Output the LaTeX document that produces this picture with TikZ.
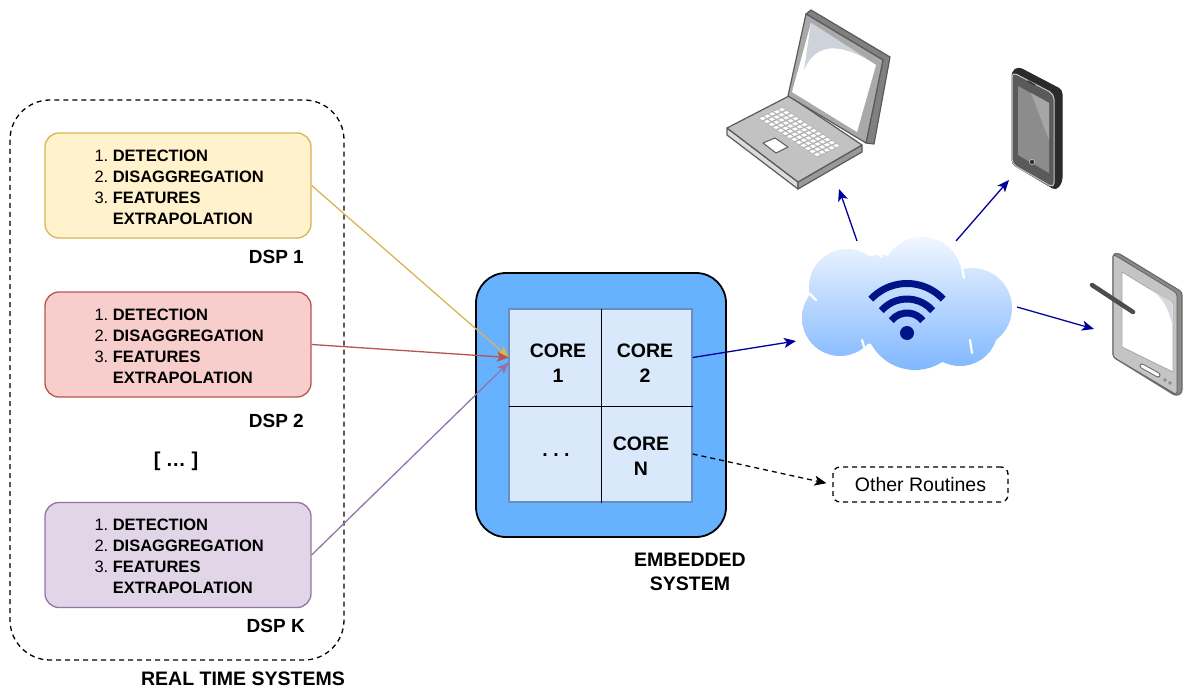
\documentclass[tikz,border=0pt]{standalone}
\usepackage{fontspec}
\setmainfont{Liberation Sans}
\usetikzlibrary{arrows.meta,calc}

\definecolor{yfill}{HTML}{FFF2CC}
\definecolor{ydraw}{HTML}{D6B656}
\definecolor{rfill}{HTML}{F8CECC}
\definecolor{rdraw}{HTML}{B85450}
\definecolor{pfill}{HTML}{E1D5E7}
\definecolor{pdraw}{HTML}{9673A6}
\definecolor{embfill}{HTML}{66B2FF}
\definecolor{cellfill}{HTML}{DAE8FC}
\definecolor{celldraw}{HTML}{6C8EBF}
\definecolor{netblue}{HTML}{000099}
\definecolor{wifiblue}{HTML}{001489}
\definecolor{cloudtop}{HTML}{F3F8FF}
\definecolor{cloudbot}{HTML}{7DB5FF}
\definecolor{lapline}{HTML}{5A5A5A}
\definecolor{lapface}{HTML}{A9A9A9}
\definecolor{lapside}{HTML}{808080}
\definecolor{lapbase}{HTML}{C2C2C2}
\definecolor{lapleft}{HTML}{DCDCDC}
\definecolor{lapright}{HTML}{999999}
\definecolor{lapkeys}{HTML}{B3B3B3}
\definecolor{lapglare}{HTML}{CDD3DA}
\definecolor{phside}{HTML}{2B2B2B}
\definecolor{phface}{HTML}{5A5A5A}
\definecolor{phrim}{HTML}{C8C8C8}
\definecolor{phscreen}{HTML}{8C8C8C}
\definecolor{phglare}{HTML}{A6A6A6}
\definecolor{tbside}{HTML}{8A8A8A}
\definecolor{tbface}{HTML}{C4C4C4}
\definecolor{tbline}{HTML}{6A6A6A}
\definecolor{tbglare}{HTML}{D5DAE0}

% the three processing steps shared by every DSP block
\newcommand{\dspsteps}{%
  \begin{tabular}{@{}r@{\hspace{4.5pt}}l@{}}
    1. & \textbf{DETECTION}\\
    2. & \textbf{DISAGGREGATION}\\
    3. & \textbf{FEATURES}\\
       & \textbf{EXTRAPOLATION}
  \end{tabular}}

\begin{document}
\begin{tikzpicture}[x=1pt,y=-1pt,
  dspbox/.style={draw, line width=1.3pt, rounded corners=14pt,
    minimum width=266pt, minimum height=105pt, inner sep=0pt},
  listtext/.style={inner sep=0pt, anchor=west,
    font=\fontsize{16.5}{21}\selectfont},
  lbl/.style={inner sep=0pt, align=center,
    font=\fontsize{19.5}{24}\selectfont\bfseries},
  dsplbl/.style={inner sep=0pt, anchor=east,
    font=\fontsize{19}{22}\selectfont\bfseries},
  corelbl/.style={inner sep=0pt, align=center,
    font=\fontsize{19.5}{25}\selectfont\bfseries},
  cellbox/.style={minimum width=92pt, minimum height=97pt, inner sep=0pt},
  conn/.style={line width=1.3pt, -{Stealth[length=12pt,width=10pt,inset=3pt]}},
  netconn/.style={conn, netblue},
  dashconn/.style={conn, dash pattern=on 5pt off 4pt},
  routinebox/.style={draw, line width=1.3pt, dash pattern=on 5pt off 4pt,
    rounded corners=7pt, minimum width=175pt, minimum height=35pt,
    inner sep=0pt, font=\fontsize{19.5}{24}\selectfont},
]
\useasboundingbox (0,0) rectangle (1187,690);

% ---------- real time systems group ----------
\draw[line width=1.3pt, dash pattern=on 5pt off 4pt, rounded corners=40pt]
  (10,100) rectangle (344,660);
\node[lbl] (rts) at (243,679) {REAL TIME SYSTEMS};

\node[dspbox, fill=yfill, draw=ydraw] (dsp1) at (178,185.5) {};
\node[dspbox, fill=rfill, draw=rdraw] (dsp2) at (178,344.5) {};
\node[dspbox, fill=pfill, draw=pdraw] (dspk) at (178,555) {};

\node[listtext] (steps1) at ($(dsp1.west)+(50,3)$) {\dspsteps};
\node[listtext] (steps2) at ($(dsp2.west)+(50,3)$) {\dspsteps};
\node[listtext] (stepsk) at ($(dspk.west)+(50,3)$) {\dspsteps};

\node[dsplbl] (lbl1) at (304,257) {DSP 1};
\node[dsplbl] (lbl2) at (304,421) {DSP 2};
\node[dsplbl] (lblk) at (305,626) {DSP K};
\node[inner sep=0pt, font=\fontsize{20}{24}\selectfont\bfseries] (more) at (176,461) {[ … ]};

% ---------- embedded system ----------
\node[draw, line width=1.8pt, fill=embfill, rounded corners=30pt,
  minimum width=250pt, minimum height=264pt] (emb) at (601,405) {};
\fill[cellfill] (509,309) rectangle (692,502);
\draw[celldraw, line width=1.5pt] (509,309) rectangle (692,502);
\node[cellbox] (core1) at (555,357.5) {};
\node[cellbox] (core2) at (646.5,357.5) {};
\node[cellbox] (coreX) at (555,454) {};
\node[cellbox] (coreN) at (646.5,454) {};
\draw[line width=1.3pt] (core1.north east) -- (coreX.south east);
\draw[line width=1.3pt] (core1.south west) -- (coreN.south east |- core1.south west);
\node[corelbl] at (558,363) {CORE\\1};
\node[corelbl] at (645,363) {CORE\\2};
\node[corelbl] at (556,455) {.\ .\ .};
\node[corelbl] at (641,456) {CORE\\N};
\node[lbl] (embl) at (690,572) {EMBEDDED\\SYSTEM};

\node[routinebox] (other) at (920.5,484.5) {Other Routines};

% ---------- wireless cloud ----------
\begin{scope}
  \clip (847,287) circle (38) (840,318) circle (38) (922,277) circle (40)
        (972,308) circle (40) (915,320) circle (50) (960,328) circle (38)
        (880,300) circle (45);
  \shade[top color=cloudtop, bottom color=cloudbot] (798,234) rectangle (1016,374);
\end{scope}
\begin{scope}[white, line width=2.2pt, line cap=round]
  \draw (875,251) -- (882,257);
  \draw (810,294) -- (816,300);
  \draw (962,268) -- (964,278);
  \draw (862,340) .. controls (865,350) .. (872,358);
  \draw (970,340) -- (972,353);
\end{scope}
\coordinate (wifi) at (907,333);
\fill[wifiblue] (wifi) circle (7);
\begin{scope}[wifiblue, line width=7pt]
  \draw (wifi) ++(218:20) arc[start angle=218, end angle=322, radius=20];
  \draw (wifi) ++(221:34) arc[start angle=221, end angle=319, radius=34];
  \draw (wifi) ++(223:49.5) arc[start angle=223, end angle=317, radius=49.5];
\end{scope}

% ---------- laptop ----------
\begin{scope}[line join=round, draw=lapline, line width=1.2pt]
  \filldraw[fill=lapleft] (727,128) -- (798,182) -- (798,189) -- (727,135) -- cycle;
  \filldraw[fill=lapright] (798,182) -- (862,145) -- (862,152) -- (798,189) -- cycle;
  \filldraw[fill=lapbase] (727,128) -- (789,96) -- (862,145) -- (798,182) -- cycle;
  \begin{scope}[shift={(758,118)}, x={(4.54pt,-3pt)}, y={(4.8pt,2.2pt)}]
    \fill[lapkeys] (0,0) -- (13,0) -- (13,5) -- (0,5) -- cycle;
    \foreach \i in {0,...,12}
      \foreach \j in {0,...,4}
        \fill[white] (\i+.18,\j+.15) -- (\i+.82,\j+.15) -- (\i+.82,\j+.85) -- (\i+.18,\j+.85) -- cycle;
  \end{scope}
  \filldraw[fill=white, line width=1pt] (763,143) -- (775,138) -- (788,147) -- (776,153) -- cycle;
  \filldraw[fill=lapside] (806,14) -- (811,10) -- (890,57) -- (874,144) -- (866,143) -- (883,60) -- cycle;
  \filldraw[fill=lapface] (806,14) -- (883,60) -- (866,143) -- (788,96) -- cycle;
  \fill[white] (811,23) -- (876,65) -- (857,132) -- (792,92) -- cycle;
  \fill[lapglare] (811,23) -- (868,60) .. controls (840,44) and (816,42) .. (804,70) -- cycle;
\end{scope}

% ---------- phone ----------
\begin{scope}[line join=round]
  \filldraw[fill=phside, draw=phside, line width=1pt, rounded corners=4pt]
    (1018,67) -- (1062,90) -- (1062,182) -- (1056,190) -- (1012,164) -- (1012,72) -- cycle;
  \filldraw[fill=phface, draw=phrim, line width=1pt, rounded corners=5pt]
    (1012,72) -- (1054,94) -- (1054,188) -- (1012,164) -- cycle;
  \fill[phscreen] (1018,86) -- (1049,103) -- (1049,173) -- (1018,155) -- cycle;
  \fill[phglare] (1031,93) -- (1049,103) -- (1049,140) -- cycle;
  \filldraw[fill=phside, draw=phrim, line width=.6pt] (1032,162) circle (2.6);
  \draw[phside, line width=1.2pt, line cap=round] (1028,81) -- (1035,85);
\end{scope}

% ---------- tablet ----------
\begin{scope}[line join=round]
  \filldraw[fill=tbside, draw=tbline, line width=1.2pt, rounded corners=3pt]
    (1113,254) -- (1118,253) -- (1182,292) -- (1182,393) -- (1176,396) -- (1113,357) -- cycle;
  \filldraw[fill=tbface, draw=tbline, line width=1pt, rounded corners=3pt]
    (1113,254) -- (1177,293) -- (1177,395) -- (1113,357) -- cycle;
  \filldraw[fill=white, draw=tbline!60, line width=.8pt]
    (1122,272) -- (1173,303) -- (1173,372) -- (1122,347) -- cycle;
  \fill[tbglare] (1150,289) -- (1172,302) -- (1172,324) .. controls (1168,306) and (1161,296) .. cycle;
  \draw[tbline, line width=5pt, line cap=round] (1142,366) -- (1158,375);
  \draw[white, line width=3pt, line cap=round] (1142,366) -- (1158,375);
  \filldraw[fill=white, draw=tbline, line width=.6pt] (1165,380) circle (1.4) (1170,383) circle (1.4);
  \draw[black!70, line width=4.5pt, line cap=round] (1092,285) -- (1133,312);
\end{scope}

% ---------- connectors ----------
\coordinate (cloudin) at (796,341);
\coordinate (cloudL) at (857,241);
\coordinate (cloudM) at (956,241);
\coordinate (cloudR) at (1017,307);
\coordinate (laptop) at (839,189);
\coordinate (phone) at (1009,180);
\coordinate (tablet) at (1094,329);

\draw[conn, ydraw] (dsp1.east) -- (core1.west);
\draw[conn, rdraw] (dsp2.east) -- (core1.west);
\draw[conn, pdraw] (dspk.east) -- ($(core1.west)+(0,5)$);
\draw[netconn] (core2.east) -- (cloudin);
\draw[netconn] (cloudL) -- (laptop);
\draw[netconn] (cloudM) -- (phone);
\draw[netconn] (cloudR) -- (tablet);
\draw[dashconn, shorten >=6pt] (coreN.east) -- (other.west);
\end{tikzpicture}
\end{document}
